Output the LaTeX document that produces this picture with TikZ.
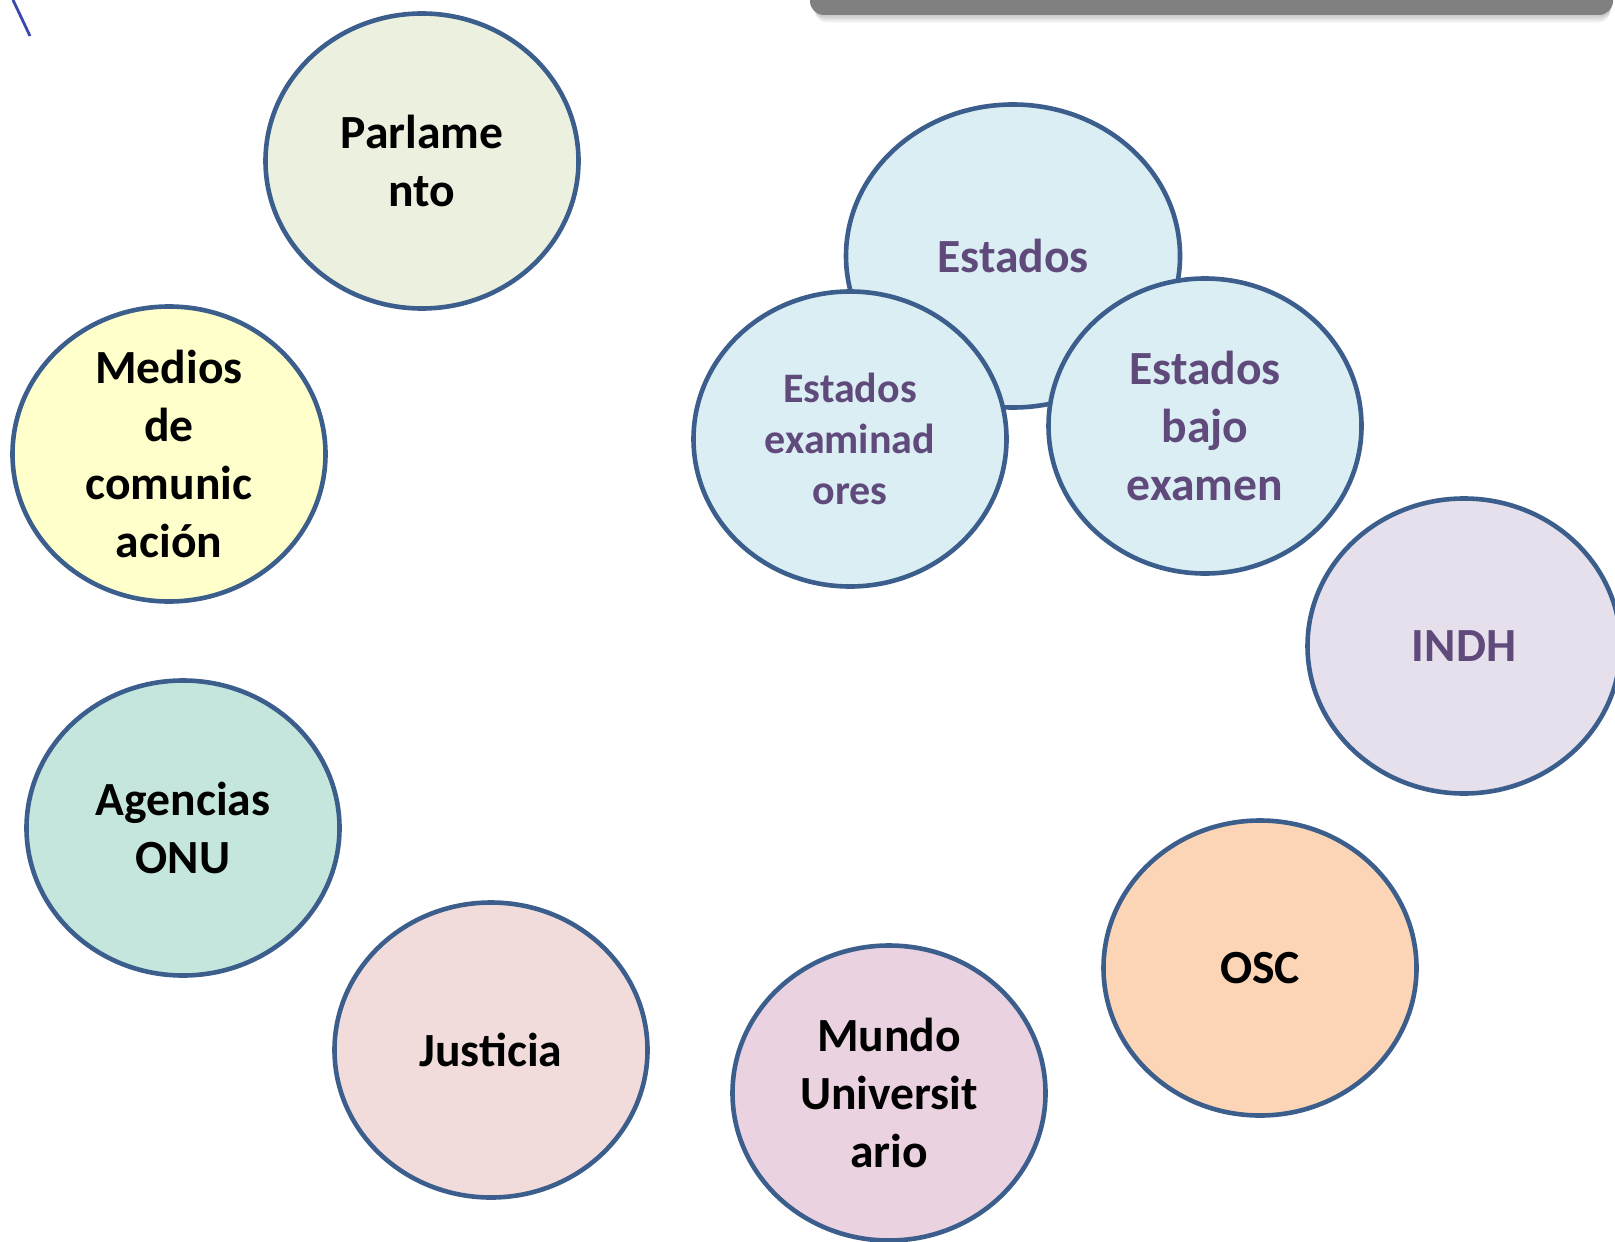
\documentclass[tikz,border=0pt]{standalone}
\usepackage{fontspec}
\setmainfont{Carlito}
\usetikzlibrary{shapes.geometric}
\definecolor{edgeblue}{HTML}{3B5E8C}
\definecolor{txtpurple}{HTML}{604A7B}
\definecolor{cParl}{HTML}{EBF1DE}
\definecolor{cMed}{HTML}{FFFFCC}
\definecolor{cEst}{HTML}{DAEEF3}
\definecolor{cIndh}{HTML}{E5E0EC}
\definecolor{cAge}{HTML}{C5E6DD}
\definecolor{cJus}{HTML}{F2DCDB}
\definecolor{cMun}{HTML}{EBD2E0}
\definecolor{cOsc}{HTML}{FBD5B5}
\definecolor{bargray}{HTML}{808080}
\definecolor{lineblue}{HTML}{3A47B0}
\tikzset{
  bubble/.style={ellipse, draw=edgeblue, line width=2.3pt, inner sep=0pt,
    minimum width=156.5pt, minimum height=147.5pt, align=center,
    font=\fontsize{23.8}{29}\selectfont\bfseries},
  bigbubble/.style={bubble, minimum width=167pt, minimum height=151.5pt},
  purpletext/.style={text=txtpurple},
  smalltext/.style={font=\fontsize{21}{25.7}\selectfont\bfseries}
}
\begin{document}
\begin{tikzpicture}[x=0.5pt,y=-0.5pt]
\useasboundingbox[fill=white] (0,0) rectangle (1615,1241);
% top gray bar with soft shadow
\foreach \k in {1,...,6}{
  \fill[black,opacity=0.035,rounded corners=6pt] (812+\k*0.5,-20) rectangle (1613-\k*0.5,15+\k*1.3);
}
\fill[bargray,rounded corners=7pt] (810,-20) rectangle (1613,15);
% blue stroke top left
\coordinate (l1) at (13,0);
\coordinate (l2) at (30,36);
\draw[lineblue,line width=1.4pt] (l1) -- (l2);
% bubbles
\node[bubble,fill=cParl] (parl) at (422,161) {Parlame\\nto};
\node[bubble,fill=cMed] (med) at (169,454) {Medios\\de\\comunic\\ación};
\node[bigbubble,fill=cEst,purpletext] (est) at (1013,256) {Estados};
\node[bubble,fill=cEst,purpletext,smalltext] (exa) at (850,439) {Estados\\examinad\\ores};
\node[bubble,fill=cEst,purpletext] (baj) at (1205,426) {Estados\\bajo\\examen};
\node[bubble,fill=cIndh,purpletext] (indh) at (1464,646) {INDH};
\node[bubble,fill=cAge] (age) at (183,828) {Agencias\\ONU};
\node[bubble,fill=cJus] (jus) at (491,1050) {Justicia};
\node[bubble,fill=cMun] (mun) at (889,1093) {Mundo\\Universit\\ario};
\node[bubble,fill=cOsc] (osc) at (1260,968) {OSC};
\end{tikzpicture}
\end{document}
